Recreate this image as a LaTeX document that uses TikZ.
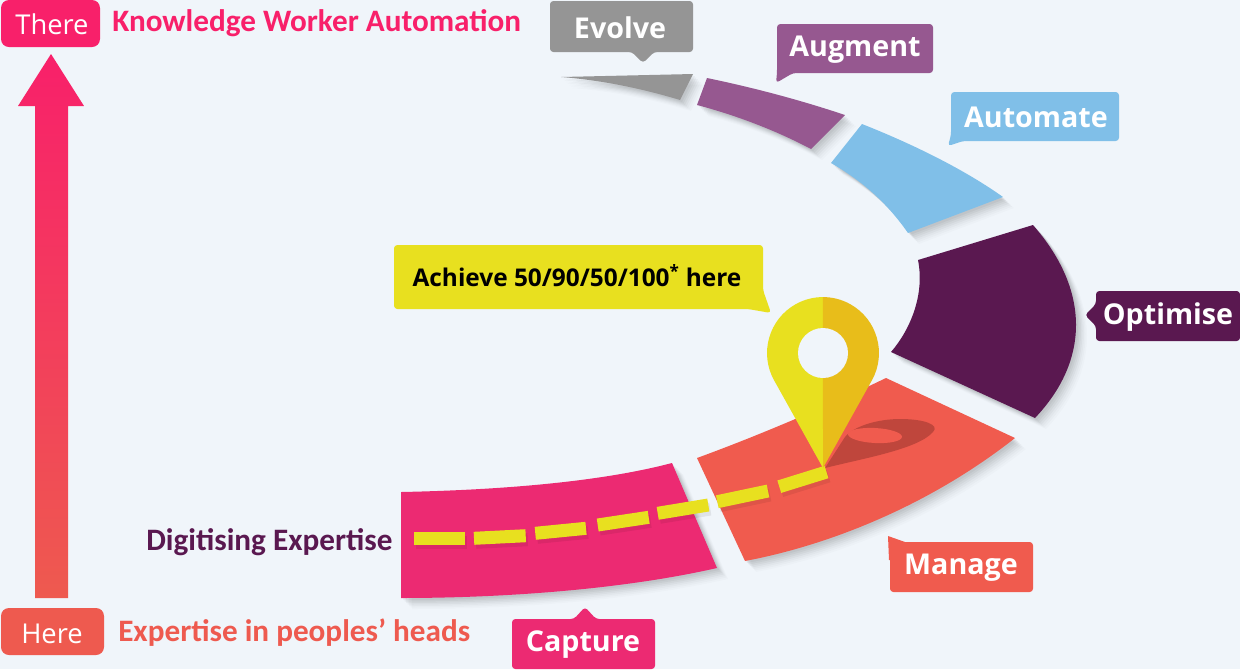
\documentclass[tikz,border=0pt]{standalone}
\usepackage{fontspec}
\setmainfont{Open Sans}
\newfontfamily\carl{Carlito}
\definecolor{bgc}{HTML}{F0F5FA}
\definecolor{capc}{HTML}{EC2A72}
\definecolor{manc}{HTML}{F05B4E}
\definecolor{optc}{HTML}{5A1850}
\definecolor{autc}{HTML}{80BFE8}
\definecolor{augc}{HTML}{965890}
\definecolor{evoc}{HTML}{959595}
\definecolor{yel}{HTML}{E8E01F}
\definecolor{ora}{HTML}{E8BD1A}
\definecolor{pinkc}{HTML}{F8206A}
\definecolor{redc}{HTML}{EE5A4F}
\definecolor{shd}{HTML}{BF463C}
\newcommand{\shseg}[2]{%
  \foreach \d/\o in {11/0.015,9.5/0.02,8/0.025,6.5/0.03,5/0.035,3.5/0.04,2/0.04}{
    \fill[black,opacity=\o,shift={(\d*0.75pt,-\d*0.75pt)}] #2;}
  \fill[#1] #2;}
\tikzset{
  lbl/.style={text=white,font=\bfseries\fontsize{21.5pt}{24pt}\selectfont,inner sep=0pt,anchor=base},
  tag/.style={rounded corners=2.5pt},
  dashy/.style={yel,line width=9.75pt},
  dashsh/.style={black,opacity=0.07,line width=9.75pt},
  side/.style={font=\carl\bfseries\fontsize{23.4pt}{25pt}\selectfont,inner sep=0pt,anchor=base west},
  hdl/.style={text=white,font=\fontsize{20.5pt}{24pt}\selectfont,inner sep=0pt,anchor=base}
}
\begin{document}
\begin{tikzpicture}[x=0.75pt,y=-0.75pt]
\useasboundingbox (0,0) rectangle (1240,669);
\fill[bgc] (0,0) rectangle (1240,669);
% big arrow
\shade[top color=pinkc,bottom color=redc,shading angle=0]
  (51,54) -- (84,106) -- (68,106) -- (68,598) -- (35,598) -- (35,106) -- (18,106) -- cycle;
\fill[pinkc,rounded corners=6pt] (1,0) rectangle (100,47);
\node[hdl] (there) at (52,34) {There};
\fill[redc,rounded corners=6pt] (1,608) rectangle (104,655);
\node[hdl] (here) at (52,643) {Here};
\node[side,text=pinkc] (kwa) at (112,31) {Knowledge Worker Automation};
\node[side,text=redc] (eph) at (118,641) {Expertise in peoples’ heads};
\node[side,text=optc] (dig) at (146,550) {Digitising Expertise};
% segments
\shseg{evoc}{(561,77) -- (693,74) -- (680,100) .. controls (640,88) and (600,80) .. (561,77) -- cycle}
\shseg{augc}{(707,78) .. controls (755,88) and (800,100) .. (845,115) -- (811,149) .. controls (775,130) and (735,115) .. (697,105) -- cycle}
\shseg{autc}{(862,124) .. controls (915,145) and (965,170) .. (1003,197) -- (908,233) .. controls (885,200) and (860,180) .. (831,163) -- cycle}
\shseg{optc}{(1033,225) .. controls (1090,290) and (1090,360) .. (1035,418) -- (891,352) .. controls (910,330) and (925,295) .. (918,260) -- cycle}
\shseg{manc}{(697,458) .. controls (760,435) and (830,405) .. (886,378) -- (1015,438) .. controls (930,505) and (830,545) .. (745,561) -- cycle}
\shseg{capc}{(401,492) .. controls (500,490) and (600,482) .. (672,463) -- (717,568) .. controls (620,590) and (500,598) .. (401,598) -- cycle}
% pin shadow
\fill[shd] (825,468) .. controls (865,458) and (918,449) .. (933,432) .. controls (940,425) and (925,419) .. (900,419) .. controls (880,419) and (855,425) .. (845,437) -- cycle;
\fill[manc,rotate around={-3:(875,435.5)}] (875,435.5) ellipse (27 and 7.5);
% dashes
\foreach \xa/\ya/\xb/\yb in {414/538.8/465.3/538.8, 474/538.3/525.7/535.7, 535.3/533.3/586/528.3, 597.7/525/648.7/517.3, 657.7/513.3/708.3/505, 717.3/501.7/768/491, 779.3/486.7/826.5/472}{
  \draw[dashsh] (\xa+2,\ya+4) -- (\xb+2,\yb+4);
}
\foreach \xa/\ya/\xb/\yb in {414/538.8/465.3/538.8, 474/538.3/525.7/535.7, 535.3/533.3/586/528.3, 597.7/525/648.7/517.3, 657.7/513.3/708.3/505, 717.3/501.7/768/491, 779.3/486.7/826.5/472}{
  \draw[dashy] (\xa,\ya) -- (\xb,\yb);
}
% pin
\fill[yel] (823,468) -- (774.1,380.3) arc (150.9:270:56) -- cycle;
\fill[ora] (823,468) -- (871.9,380.3) arc (29.1:-90:56) -- cycle;
\fill[bgc] (823,353) circle (25);
% callouts
\fill[evoc,tag] (550,1) -- (693,1) -- (693,52) -- (654,52) -- (643,63) -- (632,52) -- (550,52) -- cycle;
\node[lbl] (evolve) at (620,38) {Evolve};
\fill[augc,tag] (777,24) -- (933,24) -- (933,73) -- (793,73) -- (776,83) -- (777,73) -- cycle;
\node[lbl] (augment) at (855,56) {Augment};
\fill[autc,tag] (951,92) -- (1119,92) -- (1119,141) -- (963,141) -- (948,146) -- (951,135) -- cycle;
\node[lbl] (automate) at (1036,127) {Automate};
\fill[optc,tag] (1096,291) -- (1240,291) -- (1240,341) -- (1096,341) -- (1096,326) -- (1085,315) -- (1096,304) -- cycle;
\node[lbl] (optimise) at (1168,324) {Optimise};
\fill[manc] (889,560) -- (888,536) -- (905,542) -- (915,560) -- cycle;
\fill[manc,tag] (890,542) rectangle (1033,592);
\node[lbl] (manage) at (961,574) {Manage};
\fill[capc,tag] (512,619) -- (574,619) -- (585,607) -- (596,619) -- (655,619) -- (655,669) -- (512,669) -- cycle;
\node[lbl] (capture) at (583,651) {Capture};
\fill[yel,tag] (394,245) -- (763,245) -- (763,290) -- (771,313) -- (748,309) -- (394,309) -- cycle;
\node[inner sep=0pt,anchor=base,font=\bfseries\fontsize{18.3pt}{22pt}\selectfont,text=black] (achieve) at (577,286) {Achieve 50/90/50/100\textsuperscript{*} here};
\end{tikzpicture}
\end{document}
